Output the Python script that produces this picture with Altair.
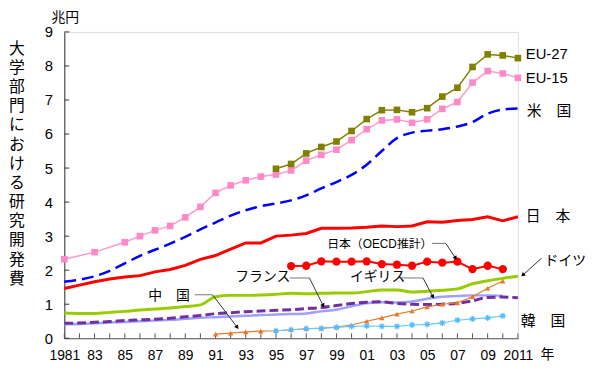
import altair as alt
import pandas as pd

# ---------------- data (兆円) ----------------
years_full = list(range(1981, 2012))

eu15_years = [1981, 1983] + list(range(1985, 2012))
eu15 = [2.32, 2.53, 2.82, 3.00, 3.17, 3.30, 3.55, 3.86, 4.27, 4.49, 4.64, 4.75, 4.81,
        4.93, 5.22, 5.39, 5.54, 5.82, 6.14, 6.40, 6.43, 6.33, 6.43, 6.74, 6.94, 7.51,
        7.85, 7.78, 7.65]

eu27_years = list(range(1995, 2012))
eu27 = [4.98, 5.12, 5.43, 5.62, 5.78, 6.09, 6.44, 6.70, 6.71, 6.64, 6.76, 7.10, 7.36,
        7.97, 8.34, 8.31, 8.23]

us = [1.66, 1.72, 1.82, 1.98, 2.20, 2.42, 2.60, 2.78, 2.98, 3.20,
      3.40, 3.60, 3.76, 3.88, 3.96, 4.05, 4.20, 4.40, 4.59, 4.80,
      5.10, 5.50, 5.88, 6.04, 6.10, 6.14, 6.22, 6.35, 6.60, 6.72, 6.75]

japan = [1.46, 1.56, 1.66, 1.74, 1.80, 1.84, 1.95, 2.02, 2.14, 2.32,
         2.43, 2.62, 2.80, 2.80, 3.00, 3.03, 3.08, 3.23, 3.23, 3.24,
         3.26, 3.30, 3.28, 3.30, 3.42, 3.41, 3.46, 3.49, 3.57, 3.45, 3.57]

oecd_years = list(range(1996, 2011))
japan_oecd = [2.12, 2.13, 2.26, 2.25, 2.25, 2.26, 2.18, 2.16, 2.13, 2.25, 2.22, 2.25,
              2.03, 2.13, 2.03]

germany = [0.74, 0.73, 0.73, 0.76, 0.79, 0.83, 0.86, 0.89, 0.93, 0.98,
           1.22, 1.26, 1.26, 1.27, 1.29, 1.32, 1.31, 1.32, 1.33, 1.33,
           1.37, 1.42, 1.42, 1.36, 1.38, 1.41, 1.45, 1.60, 1.69, 1.76, 1.82]

france = [0.44, 0.45, 0.47, 0.49, 0.52, 0.54, 0.56, 0.59, 0.63, 0.67,
          0.72, 0.75, 0.78, 0.80, 0.82, 0.84, 0.87, 0.90, 0.96, 1.02,
          1.06, 1.07, 1.02, 1.00, 0.99, 1.00, 1.03, 1.10, 1.20, 1.21, 1.19]

uk_years = list(range(1981, 2011))
uk = [0.41, 0.42, 0.44, 0.46, 0.48, 0.50, 0.52, 0.54, 0.57, 0.60,
      0.62, 0.64, 0.66, 0.68, 0.70, 0.71, 0.73, 0.79, 0.84, 0.94,
      1.03, 1.06, 1.05, 1.08, 1.16, 1.22, 1.24, 1.26, 1.26, 1.25]

china_years = list(range(1991, 2011))
china = [0.12, 0.15, 0.19, 0.21, 0.22, 0.25, 0.28, 0.30, 0.33, 0.39,
         0.50, 0.60, 0.71, 0.80, 0.92, 1.00, 1.04, 1.22, 1.47, 1.68]

korea_years = list(range(1995, 2011))
korea = [0.22, 0.25, 0.28, 0.29, 0.32, 0.35, 0.36, 0.35, 0.35, 0.39, 0.41, 0.45,
         0.53, 0.57, 0.60, 0.66]

x_label_years = list(range(1981, 2012, 2))
y_ticks = list(range(0, 10))

# ---------------- helpers ----------------
JP = "'Liberation Sans', 'Noto Sans CJK JP', sans-serif"
X = alt.X("year:Q", scale=alt.Scale(domain=[1981, 2011], nice=False, zero=False),
          axis=alt.Axis(values=x_label_years, title=None, grid=False, ticks=False,
                        labelExpr="(datum.value==1981||datum.value==2011) ? toString(datum.value) : slice(toString(datum.value),2)",
                        labelFont=JP, labelFontSize=14, labelColor="#000",
                        labelPadding=11, domainColor="#555", labelFlush=False))
Y = alt.Y("v:Q", scale=alt.Scale(domain=[0, 9], nice=False),
          axis=alt.Axis(values=y_ticks, title=None, grid=False, ticks=False,
                        labelFont=JP, labelFontSize=15, labelColor="#000",
                        labelPadding=12, domainColor="#333"))


def frame(years, vals):
    return pd.DataFrame({"year": years, "v": vals})


def line(years, vals, color, width, dash=None, interp="linear"):
    kw = dict(color=color, strokeWidth=width, interpolate=interp, clip=False)
    if dash:
        kw["strokeDash"] = dash
    return alt.Chart(frame(years, vals)).mark_line(**kw).encode(x=X, y=Y)


def pts(years, vals, color, shape, size, filled=True, sw=1):
    return alt.Chart(frame(years, vals)).mark_point(
        shape=shape, size=size, filled=filled, color=color, opacity=1,
        strokeWidth=sw).encode(x=X, y=Y)


one = pd.DataFrame({"a": [0]})


def txt(s, x, y, size=15, align="left", **kw):
    return alt.Chart(one).mark_text(text=s, font=JP, fontSize=size, align=align,
                                    baseline="middle", color="#000", **kw).encode(
        x=alt.value(x), y=alt.value(y))


def seg(x1, y1, x2, y2, color="#333"):
    return alt.Chart(one).mark_rule(color=color, strokeWidth=1).encode(
        x=alt.value(x1), y=alt.value(y1), x2=alt.value(x2), y2=alt.value(y2))


def head(x, y, ang):
    return alt.Chart(one).mark_point(shape="triangle-up", size=22, filled=True,
                                     color="#000", opacity=1, angle=ang).encode(
        x=alt.value(x), y=alt.value(y))


star = "M-1,0L1,0M0,-1L0,1M-0.7,-0.7L0.7,0.7M-0.7,0.7L0.7,-0.7"

# ---------------- layers ----------------
layers = [
    # tick marks (inside)
    alt.Chart(frame(years_full, [0] * len(years_full))).mark_rule(color="#555", strokeWidth=1)
    .encode(x=X, y=alt.value(310), y2=alt.value(305)),
    alt.Chart(frame([0] * len(y_ticks), y_ticks)).mark_rule(color="#333", strokeWidth=1)
    .encode(y=Y, x=alt.value(0), x2=alt.value(5)),

    line(uk_years, uk, "#9f9fff", 2.5, interp="monotone"),
    line(years_full, france, "#7030a0", 3, dash=[9, 4], interp="monotone"),
    line(years_full, germany, "#99cc00", 3, interp="monotone"),
    line(china_years, china, "#e8782a", 1.2),
    pts(china_years, china, "#e8782a", "triangle-up", 30),
    line(korea_years, korea, "#66ccff", 1.2),
    pts(korea_years, korea, "#55bbff", star, 40, filled=False, sw=1.2),
    line(years_full, japan, "#ff0000", 3),
    line(oecd_years, japan_oecd, "#ff0000", 2),
    pts(oecd_years, japan_oecd, "#ff0000", "circle", 70),
    line(years_full, us, "#0000ff", 2.5, dash=[12, 6], interp="monotone"),
    line(eu15_years, eu15, "#ff99cc", 1.5),
    pts(eu15_years, eu15, "#ff88c8", "square", 45),
    line(eu27_years, eu27, "#808000", 1.5),
    pts(eu27_years, eu27, "#808000", "square", 45),

    # series labels
    txt("EU-27", 467, 22),
    txt("EU-15", 467, 47),
    txt("米　国", 468, 80),
    txt("日　本", 467, 186),
    txt("ドイツ", 486, 232, size=14),
    txt("韓　国", 462, 293),
    txt("日本（OECD推計）", 266, 215, size=12),
    txt("フランス", 173, 248, size=14),
    txt("イギリス", 289, 248, size=14),
    txt("中　国", 85, 267, size=14),
    txt("兆円", -13, -14, size=14),
    txt("年", 482, 327, size=14),
    alt.Chart(one).mark_text(text="\n".join("大学部門における研究開発費"), lineBreak="\n",
                             font=JP, fontSize=16, lineHeight=19.4, align="center",
                             baseline="top", color="#000").encode(
        x=alt.value(-48), y=alt.value(9)),

    # leader lines
    seg(372, 214, 386, 214, "#777"), seg(386, 214, 396, 229), head(396, 229, 146),
    seg(228, 249, 248, 249, "#777"), seg(248, 249, 262, 277), head(262, 277, 153),
    seg(340, 249, 363, 249, "#777"), seg(363, 249, 373, 268), head(373, 268, 152),
    seg(132, 266, 150, 266, "#777"), seg(150, 266, 175, 299), head(175, 299, 144),
    seg(483, 229, 464, 246), head(464, 246, 228),
]

chart = alt.layer(*layers).properties(
    width=459, height=310,
    padding={"left": 57, "top": 22, "right": 75, "bottom": 37},
    autosize=alt.AutoSizeParams(type="none"),
).configure_view(stroke=None).configure(background="white")

chart.save("out.html", embed_options={"renderer": "svg", "actions": False})
